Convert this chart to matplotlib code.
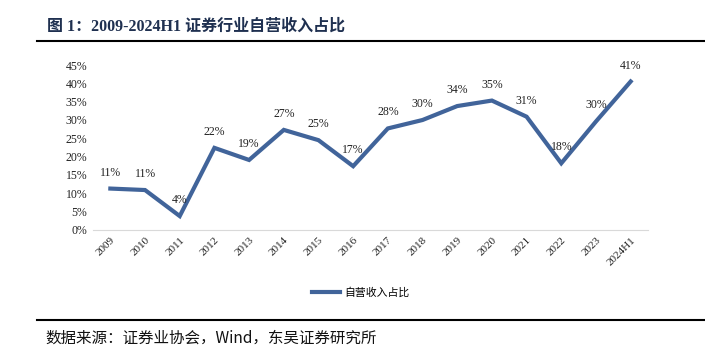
import matplotlib
matplotlib.use("Agg")
import matplotlib.pyplot as plt
from matplotlib.lines import Line2D

# data
years = ["2009", "2010", "2011", "2012", "2013", "2014", "2015", "2016",
         "2017", "2018", "2019", "2020", "2021", "2022", "2023", "2024H1"]
share = [11.3, 10.9, 3.8, 22.4, 19.1, 27.3, 24.5, 17.4,
         27.7, 30.0, 33.8, 35.3, 30.9, 18.2, 29.6, 40.5]
labels = ["11%", "11%", "4%", "22%", "19%", "27%", "25%", "17%",
          "28%", "30%", "34%", "35%", "31%", "18%", "30%", "41%"]
yticks = list(range(0, 50, 5))

SERIF = ["Liberation Serif", "Noto Sans CJK SC"]
CJK = ["Noto Sans CJK SC", "DejaVu Sans"]
LINE_COLOR = "#41649A"

W, H = 705, 353
fig = plt.figure(figsize=(W / 100, H / 100), dpi=100)

# plot area
ax = fig.add_axes([93 / W, 1 - 230 / H, 555 / W, 165 / H])
x = list(range(len(years)))
ax.plot(x, share, color=LINE_COLOR, lw=3, solid_joinstyle="miter")
for i, (v, lab) in enumerate(zip(share, labels)):
    ax.annotate(lab, (i, v), xytext=(0, 11.5), textcoords="offset points",
                ha="center", va="center", fontsize=8.5, family=SERIF, color="#222222")

ax.set_xlim(-0.5, len(years) - 0.5)
ax.set_ylim(0, 45)
ax.set_yticks(yticks)
ax.set_yticklabels([f"{t}%" for t in yticks], family=SERIF, fontsize=8.5, color="#222222")
ax.set_xticks(x)
ax.set_xticklabels(years, rotation=45, ha="right", rotation_mode="anchor",
                   family=SERIF, fontsize=8, color="#222222")
ax.tick_params(length=0, pad=4)
for s in ["top", "right", "left"]:
    ax.spines[s].set_visible(False)
ax.spines["bottom"].set_color("#d9d9d9")

# legend
handle = Line2D([], [], color=LINE_COLOR, lw=3)
fig.legend([handle], ["自营收入占比"], loc="center", bbox_to_anchor=(361 / W, 1 - 293 / H),
           frameon=False, prop={"family": CJK, "size": 7.8}, handlelength=2.6, handletextpad=0.4)

# title and rules
fig.text(47 / W, 1 - 27 / H, "图 1：2009-2024H1 证券行业自营收入占比", family=SERIF,
         fontsize=11.5, fontweight="bold", color="#1F3050", va="center", ha="left")
fig.add_artist(Line2D([37 / W, 1], [1 - 41 / H] * 2, color="black", lw=1.5))
fig.add_artist(Line2D([37 / W, 1], [1 - 320 / H] * 2, color="black", lw=1.5))

fig.text(45 / W, 1 - 338 / H, "数据来源：证券业协会，Wind，东吴证券研究所", family=CJK,
         fontsize=11.2, color="#111111", va="center", ha="left")

fig.savefig("out.png", dpi=100)
